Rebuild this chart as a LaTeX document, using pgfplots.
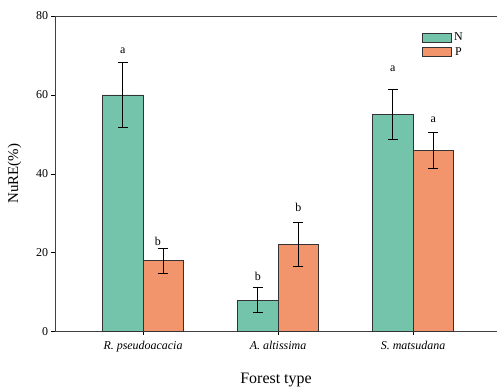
\documentclass[border=0pt]{standalone}
\usepackage{pgfplots}
\pgfplotsset{compat=1.18}
\usepackage{fontspec}
\setmainfont{Liberation Serif}
\definecolor{cN}{RGB}{115,196,170}
\definecolor{cP}{RGB}{243,149,108}
\begin{document}
\begin{tikzpicture}
\path[use as bounding box] (-55bp,-55.3bp) rectangle (442bp,331.7bp);
\begin{axis}[
  scale only axis,
  width=442bp, height=315.7bp,
  xmin=-0.652, xmax=2.622,
  ymin=0, ymax=80,
  axis y line*=left,
  xtick={0,1,2},
  xticklabels={\textit{R. pseudoacacia},\textit{A. altissima},\textit{S. matsudana}},
  ytick={0,20,40,60,80},
  xtick pos=bottom,
  tick align=outside,
  major tick length=3.5bp,
  tick style={black, line width=0.6pt},
  axis line style={line width=0.6pt, black!75},
  x axis line style={-},
  y axis line style={-},
  ticklabel style={font=\fontsize{12}{12}\selectfont},
  /pgf/number format/assume math mode=true,
  xticklabel style={yshift=-2bp},
  ylabel={NuRE(\%)},
  ylabel style={font=\fontsize{15}{15}\selectfont, yshift=8bp},
  xlabel={Forest type},
  xlabel style={font=\fontsize{16}{16}\selectfont, yshift=-15bp},
  legend style={at={(0.822,0.96)}, anchor=north west, draw=none, fill=none,
    font=\fontsize{12}{12}\selectfont, row sep=1.5bp,
    /tikz/every even column/.append style={column sep=2bp}},
  legend image code/.code={\draw[#1] (0bp,-4.5bp) rectangle (29bp,4.5bp);},
  error bars/error bar style={black, line width=0.6pt},
  error bars/error mark options={rotate=90, mark size=5bp, line width=0.6pt, black},
]
\addplot[ybar, bar width=40.5bp, bar shift=0pt, fill=cN, draw=black!80, line width=0.6pt,
  error bars/.cd, y dir=both, y explicit]
  coordinates {(-0.15,60) +- (0,8.3) (0.85,8.0) +- (0,3.2) (1.85,55.0) +- (0,6.3)};
\addlegendentry{\hspace{1bp}N}
\addplot[ybar, bar width=40.5bp, bar shift=0pt, fill=cP, draw=black!80, line width=0.6pt,
  error bars/.cd, y dir=both, y explicit]
  coordinates {(0.15,18.0) +- (0,3.2) (1.15,22.1) +- (0,5.6) (2.15,46.0) +- (0,4.6)};
\addlegendentry{\hspace{1bp}P}
\addplot[only marks, mark=none, nodes near coords, point meta=explicit symbolic,
  every node near coord/.append style={anchor=center, font=\fontsize{12}{12}\selectfont, inner sep=0pt}, forget plot]
  coordinates {(-0.15,71.1)[a] (0.11,22.8)[b] (0.85,13.9)[b] (1.15,31.6)[b] (1.85,66.7)[a] (2.15,53.6)[a]};
\end{axis}
\end{tikzpicture}
\end{document}
